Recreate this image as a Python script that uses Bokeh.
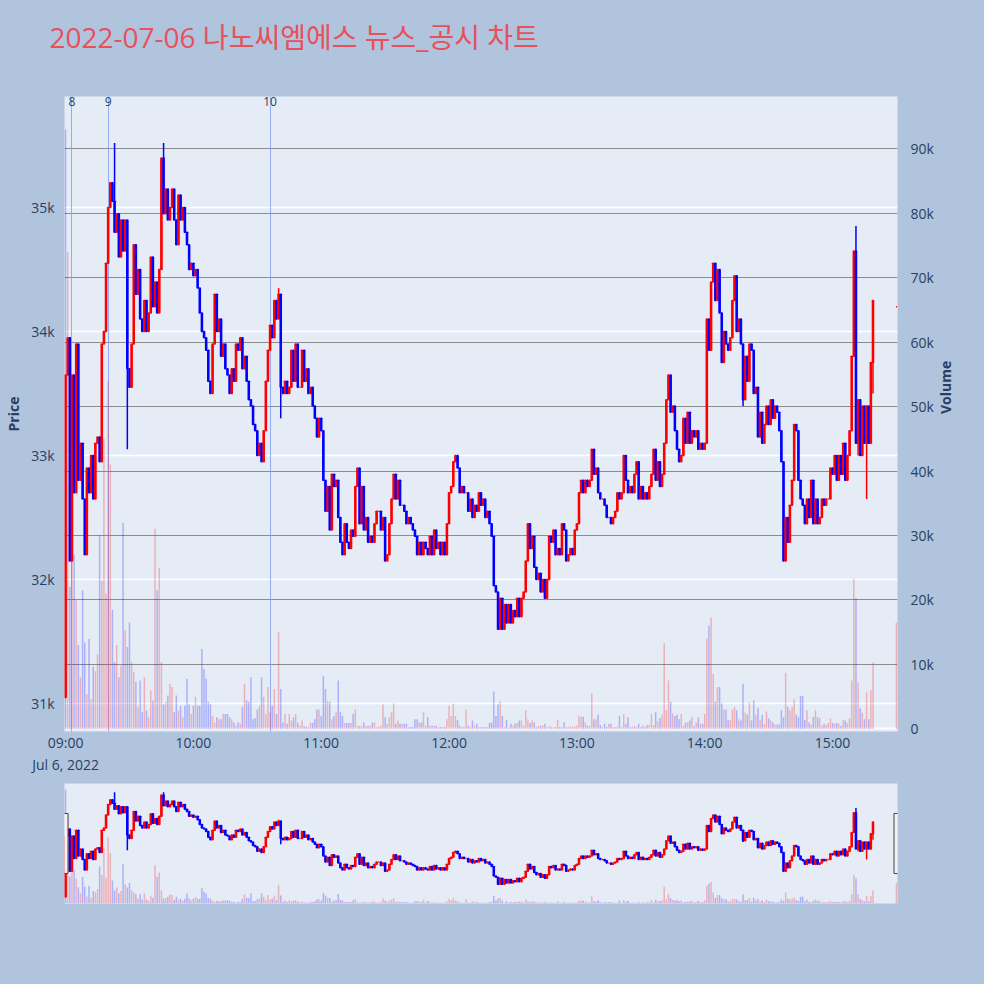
import math
import pandas as pd
from bokeh.plotting import figure
from bokeh.layouts import column
from bokeh.models import Range1d, LinearAxis, FixedTicker, Label, Title
from bokeh.embed import file_html
from bokeh.resources import INLINE

TITLE = "2022-07-06 나노씨엠에스 뉴스_공시 차트"
START = "2022-07-06 09:00"
CLOSE_AUCTION = "2022-07-06 15:30"

first_open = 31050
closes = [
    33650, 33950, 32150, 33650, 32700, 33900, 32800, 33100, 32650, 32200,
    32900, 32700, 33000, 32650, 33100, 33150, 32950, 33900, 34000, 34550,
    35000, 35200, 35050, 34800, 34950, 34600, 34900, 34650, 34900, 33700,
    33550, 33900, 34700, 34300, 34500, 34100, 34000, 34250, 34000, 34150,
    34600, 34200, 34400, 34150, 34500, 35400, 34950, 35150, 34900, 35000,
    35150, 34900, 34700, 35100, 34900, 35000, 34800, 34700, 34500, 34550,
    34450, 34500, 34350, 34150, 34000, 33950, 33850, 33600, 33500, 33900,
    34300, 34000, 34100, 33800, 33900, 33700, 33650, 33500, 33700, 33600,
    33900, 33850, 33950, 33700, 33800, 33600, 33450, 33400, 33250, 33200,
    33000, 33100, 32950, 33200, 33600, 33850, 34050, 33950, 34250, 34100,
    34300, 33550, 33500, 33600, 33500, 33550, 33850, 33600, 33900, 33550,
    33550, 33850, 33600, 33700, 33500, 33550, 33400, 33300, 33150, 33300,
    33200, 32800, 32550, 32750, 32400, 32850, 32750, 32800, 32500, 32300,
    32200, 32450, 32300, 32250, 32400, 32350, 32750, 32900, 32450, 32750,
    32400, 32500, 32300, 32350, 32300, 32450, 32550, 32550, 32400, 32500,
    32150, 32200, 32450, 32650, 32850, 32650, 32800, 32600, 32600, 32550,
    32450, 32500, 32450, 32400, 32350, 32200, 32300, 32200, 32300, 32250,
    32200, 32350, 32200, 32400, 32250, 32300, 32200, 32300, 32200, 32450,
    32700, 32750, 32950, 33000, 32900, 32700, 32750, 32700, 32700, 32550,
    32650, 32500, 32600, 32550, 32700, 32600, 32650, 32500, 32550, 32450,
    32350, 31950, 31900, 31600, 31850, 31600, 31800, 31650, 31800, 31650,
    31750, 31700, 31850, 31700, 31850, 31900, 32150, 32450, 32250, 32350,
    32100, 32000, 32050, 31900, 32000, 31850, 32000, 32350, 32300, 32400,
    32200, 32250, 32200, 32450, 32400, 32150, 32200, 32250, 32200, 32400,
    32450, 32700, 32800, 32700, 32800, 32750, 32800, 33050, 32850, 32900,
    32700, 32650, 32650, 32600, 32500, 32500, 32450, 32500, 32550, 32700,
    32650, 32700, 33000, 32800, 32700, 32750, 32700, 32850, 32950, 32650,
    32750, 32650, 32700, 32650, 32750, 32850, 33050, 32800, 32950, 32750,
    32850, 33100, 33450, 33650, 33350, 33400, 33200, 33050, 32950, 33000,
    33300, 33100, 33350, 33100, 33200, 33150, 33200, 33050, 33100, 33050,
    33100, 34100, 33850, 34400, 34550, 34250, 34500, 34150, 33750, 34000,
    33900, 33850, 33950, 34250, 34450, 34000, 34100, 33900, 33450, 33800,
    33600, 33900, 33850, 33500, 33550, 33150, 33350, 33100, 33250, 33400,
    33250, 33450, 33300, 33400, 33350, 33200, 32950, 32150, 32500, 32300,
    32600, 32800, 33250, 33200, 32800, 32650, 32600, 32450, 32650, 32500,
    32800, 32450, 32650, 32450, 32500, 32650, 32600, 32650, 32650, 32900,
    32850, 33000, 32800, 33000, 32850, 33100, 32800, 33000, 33200, 33800,
    34650, 33100, 33450, 33000, 33400, 33100, 33400, 33100, 33750, 34250,
]
close_auction = 34200
extra_high = {23: 35520, 46: 35520, 100: 34350, 371: 34850}
extra_low = {29: 33050, 101: 33300, 318: 33400, 372: 33000, 376: 32650, 379: 33500}

volume_k = [
    93, 74, 22, 28, 27, 20, 13, 8, 21.5, 13.4,
    5.4, 14, 4.6, 9.7, 9, 11.6, 30, 23, 45, 21,
    54, 41, 18.5, 10.4, 13, 8, 9.8, 32, 15.3, 12.7,
    16.5, 10.4, 8.8, 7.3, 3.4, 7.5, 2.6, 8, 2.8, 1.8,
    6, 4.4, 31, 21.5, 25, 10.4, 3.8, 4.2, 5.2, 7,
    6.5, 2.6, 5.2, 2.8, 3.6, 1.8, 3.6, 7.8, 3.8, 2.3,
    3.6, 5, 3.6, 3.6, 12.4, 9.3, 7.8, 4.2, 3.8, 2,
    1, 1.8, 1.5, 1.5, 2.3, 2.3, 2.3, 1.8, 1.5, 1,
    0.5, 1, 0.8, 3.4, 7, 4.4, 4.2, 8, 1.5, 1.7,
    3, 3.6, 8, 5, 2.3, 6.5, 2.6, 3.6, 6.2, 2.3,
    15, 6.2, 1, 2.3, 0.8, 2.3, 1.3, 1.8, 2.3, 1,
    0.5, 1.3, 0.4, 0.4, 0.3, 1, 0.9, 1.5, 3, 3,
    2, 8.2, 6.2, 4.3, 4.2, 1.5, 2, 2.6, 7.5, 2.6,
    2, 0.9, 0.9, 0.9, 0.9, 2.3, 3, 0.5, 0.5, 0.4,
    1, 0.4, 0.5, 0.5, 1, 1, 0.3, 0.4, 0.4, 3.8,
    1.8, 0.8, 1.8, 2.6, 4, 0.8, 1.3, 0.8, 0.8, 0.8,
    0.8, 0.3, 0.3, 0.3, 1.5, 1.5, 1, 1, 2.6, 0.5,
    1.8, 0.5, 0.5, 0.5, 0.5, 0.3, 0.3, 0.3, 0.3, 1.5,
    3.6, 2, 3.9, 2, 1.4, 0.5, 0.3, 0.3, 3, 0.5,
    0.3, 1.3, 0.5, 0.8, 0.3, 0.3, 0.3, 0.3, 0.3, 0.9,
    1, 5.8, 2, 3.8, 4.3, 2, 0.3, 1.4, 0.2, 0.8,
    0.5, 0.8, 0.9, 1.3, 1.3, 0.5, 2.9, 1.5, 0.9, 1.3,
    1, 0.3, 0.5, 0.5, 0.5, 0.8, 0.3, 0.5, 0.3, 0.3,
    0.3, 1.4, 0.3, 0.3, 1, 0.3, 0.3, 0.4, 0.3, 0.4,
    0.5, 2, 1.9, 1.9, 1, 0.5, 0.5, 5.5, 1.5, 1.5,
    2.2, 0.6, 0.3, 0.8, 0.3, 0.8, 0.8, 0.3, 0.3, 0.4,
    2, 0.3, 2.3, 0.8, 1.8, 0.3, 0.3, 0.5, 0.3, 0.8,
    0.3, 0.5, 0.3, 0.6, 0.6, 2.3, 0.6, 2.6, 1.2, 1.7,
    2.2, 13.3, 2.9, 7.5, 4.2, 2.4, 2, 2.2, 1.5, 2.3,
    0.5, 1, 1, 1.3, 1.9, 0.4, 1, 1.8, 0.8, 0.8,
    2.3, 14, 16, 17.3, 8.5, 4.2, 6.5, 6.5, 4, 3,
    3, 1.3, 1.4, 3, 3.4, 2.9, 1.5, 1.3, 7, 2.5,
    2.2, 4.1, 1.3, 4.4, 2.2, 3.3, 1.4, 2.2, 0.8, 2.7,
    1.6, 1.3, 1, 0.7, 0.7, 0.7, 2.9, 1.8, 8.7, 3.4,
    2.9, 3.4, 4.6, 2.2, 1.8, 5.1, 5.1, 1.4, 2.9, 1,
    0.7, 1.9, 2.9, 1.8, 1.7, 0.5, 0.8, 0.6, 0.9, 1.6,
    0.9, 0.8, 0.9, 0.8, 0.5, 1.4, 1.3, 0.9, 1.7, 7.5,
    23.3, 20.3, 7.2, 3.2, 2.5, 1.5, 5.7, 1.5, 6, 10.3,
]
volume_auction_k = 16.5

news_times = ["09:03", "09:20", "10:36"]
news_labels = ["8", "9", "10"]

price_ticks = [31000, 32000, 33000, 34000, 35000]
price_tick_labels = ["31k", "32k", "33k", "34k", "35k"]
vol_ticks = [0, 10, 20, 30, 40, 50, 60, 70, 80, 90]
vol_tick_labels = ["0", "10k", "20k", "30k", "40k", "50k", "60k", "70k", "80k", "90k"]
time_ticks = ["09:00", "10:00", "11:00", "12:00", "13:00", "14:00", "15:00"]
date_label = "Jul 6, 2022"

PRICE_RANGE = (30775, 35895)
VOL_RANGE = (-0.4, 98.1)
X_RANGE = (-0.5, 390.5)

RED = "#ff0000"
BLUE = "#0000ff"
FONT = "Open Sans, Noto Sans CJK KR"
TXT = "#2a3f5f"
PAGE_BG = "#b0c4de"
PLOT_BG = "#e5ecf6"

# ---------- derived series ----------
t0 = pd.Timestamp(START)
times = pd.date_range(START, periods=len(closes), freq="min").append(pd.DatetimeIndex([CLOSE_AUCTION]))
xm = list((times - t0).total_seconds() / 60.0)
c_all = closes + [close_auction]
o_all = [first_open] + closes[:-1] + [close_auction]
hi = [max(o, c) for o, c in zip(o_all, c_all)]
lo = [min(o, c) for o, c in zip(o_all, c_all)]
for k, v in extra_high.items():
    hi[k] = v
for k, v in extra_low.items():
    lo[k] = v
cols = [RED if c >= o else BLUE for o, c in zip(o_all, c_all)]
vcols = list(cols)
vcols[0] = BLUE
vols = volume_k + [volume_auction_k]
btop = [max(o, c) for o, c in zip(o_all, c_all)]
bbot = [min(o, c) for o, c in zip(o_all, c_all)]
news_x = [(pd.Timestamp("2022-07-06 " + t) - t0).total_seconds() / 60.0 for t in news_times]
tick_x = [(pd.Timestamp("2022-07-06 " + t) - t0).total_seconds() / 60.0 for t in time_ticks]
tick_over = {int(x): lab for x, lab in zip(tick_x, time_ticks)}
tick_over[int(tick_x[0])] = time_ticks[0] + "\n" + date_label


def draw_series(fig, lw):
    fig.vbar(x=xm, width=0.7, top=vols, bottom=0, y_range_name="vol",
             fill_color=vcols, fill_alpha=0.25, line_color=None)
    fig.segment(x0=xm, y0=lo, x1=xm, y1=hi, line_color=cols, line_width=lw)
    fig.vbar(x=xm, width=0.5, top=btop, bottom=bbot, fill_color=cols,
             line_color=cols, line_width=lw)


# ---------- main chart ----------
p = figure(width=984, height=783, x_range=Range1d(*X_RANGE), y_range=Range1d(*PRICE_RANGE),
           output_backend="svg", toolbar_location=None,
           min_border_left=64, min_border_right=87, min_border_top=96, min_border_bottom=52,
           background_fill_color=PLOT_BG, border_fill_color=PAGE_BG, outline_line_color=None)
p.extra_y_ranges = {"vol": Range1d(*VOL_RANGE)}

p.title.text = TITLE
p.title.text_font = FONT
p.title.text_font_size = "28px"
p.title.text_font_style = "normal"
p.title.text_color = "#e8505b"
p.title.align = "left"
p.title.vertical_align = "top"
p.title.offset = -15
p.title.standoff = 0
# empty spacer panel between the title and the plot area
p.add_layout(Title(text=" ", text_font_size="2px", standoff=35), "above")

p.xgrid.visible = False
p.ygrid.ticker = FixedTicker(ticks=price_ticks)
p.ygrid.grid_line_color = "white"
p.ygrid.grid_line_width = 1.5

p.hspan(y=vol_ticks[1:], y_range_name="vol", line_color="#8c8c8c", line_width=1)
p.hspan(y=vol_ticks[:1], y_range_name="vol", line_color="white", line_width=2)
p.vspan(x=news_x, line_color="#7f9cf5", line_width=1, line_alpha=0.8)

draw_series(p, 1.5)

for nx, nl in zip(news_x, news_labels):
    p.add_layout(Label(x=nx, y=PRICE_RANGE[1], y_offset=0, text=nl, text_align="center",
                       text_baseline="top", text_font=FONT, text_font_size="12px",
                       text_color=TXT))

ax = p.xaxis[0]
ax.ticker = FixedTicker(ticks=tick_x)
ax.major_label_overrides = tick_over

ay = p.yaxis[0]
ay.ticker = FixedTicker(ticks=price_ticks)
ay.major_label_overrides = {v: l for v, l in zip(price_ticks, price_tick_labels)}
ay.axis_label = "Price"
ay.axis_label_standoff = 5

vax = LinearAxis(y_range_name="vol", ticker=FixedTicker(ticks=vol_ticks),
                 major_label_overrides={v: l for v, l in zip(vol_ticks, vol_tick_labels)},
                 axis_label="Volume", axis_label_standoff=9)
p.add_layout(vax, "right")
try:
    vax.axis_label_orientation = math.pi / 2
except Exception:
    pass

for a in [ax, ay, vax]:
    a.axis_line_color = None
    a.major_tick_line_color = None
    a.minor_tick_line_color = None
    a.major_label_text_font = FONT
    a.major_label_text_font_size = "14px"
    a.major_label_text_color = TXT
    a.axis_label_text_font = FONT
    a.axis_label_text_font_size = "14px"
    a.axis_label_text_font_style = "bold"
    a.axis_label_text_color = TXT
ax.major_label_standoff = -5
ay.major_label_standoff = 4
vax.major_label_standoff = 7

# ---------- range slider ----------
s = figure(width=984, height=201, x_range=Range1d(*X_RANGE),
           y_range=Range1d(*PRICE_RANGE), output_backend="svg", toolbar_location=None,
           min_border_left=64, min_border_right=87, min_border_top=0, min_border_bottom=81,
           background_fill_color=PLOT_BG, border_fill_color=PAGE_BG, outline_line_color=None)
s.extra_y_ranges = {"vol": Range1d(*VOL_RANGE)}
s.axis.visible = False
s.grid.visible = False
draw_series(s, 1.5)
ymid = (PRICE_RANGE[0] + PRICE_RANGE[1]) / 2
s.rect(x=list(X_RANGE), y=[ymid, ymid], width=7, height=60, width_units="screen",
       height_units="screen", fill_color="#f2f2f2", line_color="#444444", line_width=1)

layout = column(p, s, spacing=0, styles={"background-color": PAGE_BG})
open("out.html", "w").write(file_html(layout, INLINE))
